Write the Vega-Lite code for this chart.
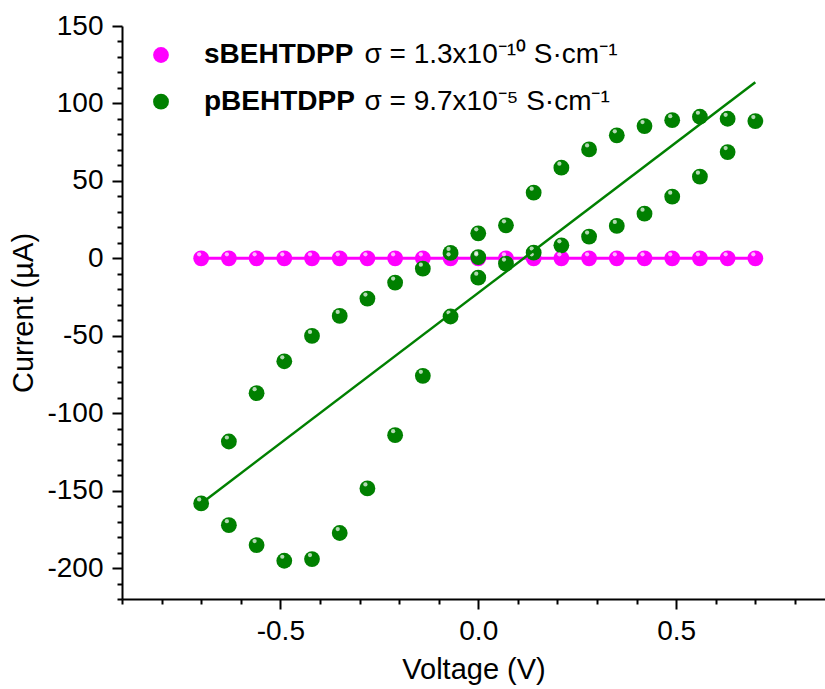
{
  "$schema": "https://vega.github.io/schema/vega-lite/v6.json",
  "autosize": "none",
  "width": 703,
  "height": 573,
  "padding": {"left": 122, "top": 26, "right": 0, "bottom": 90},
  "background": "white",
  "config": {
    "view": {"stroke": null},
    "font": "Liberation Sans",
    "axis": {"grid": false, "domainColor": "black", "domainWidth": 2, "tickColor": "black", "tickWidth": 2, "labelColor": "black", "titleColor": "black", "titleFontWeight": "normal"}
  },
  "datasets": {
    "iv": [
      {"V": -0.70, "I": 0, "series": "sBEHTDPP"},
      {"V": -0.63, "I": 0, "series": "sBEHTDPP"},
      {"V": -0.56, "I": 0, "series": "sBEHTDPP"},
      {"V": -0.49, "I": 0, "series": "sBEHTDPP"},
      {"V": -0.42, "I": 0, "series": "sBEHTDPP"},
      {"V": -0.35, "I": 0, "series": "sBEHTDPP"},
      {"V": -0.28, "I": 0, "series": "sBEHTDPP"},
      {"V": -0.21, "I": 0, "series": "sBEHTDPP"},
      {"V": -0.14, "I": 0, "series": "sBEHTDPP"},
      {"V": -0.07, "I": 0, "series": "sBEHTDPP"},
      {"V": 0.00, "I": 0, "series": "sBEHTDPP"},
      {"V": 0.07, "I": 0, "series": "sBEHTDPP"},
      {"V": 0.14, "I": 0, "series": "sBEHTDPP"},
      {"V": 0.21, "I": 0, "series": "sBEHTDPP"},
      {"V": 0.28, "I": 0, "series": "sBEHTDPP"},
      {"V": 0.35, "I": 0, "series": "sBEHTDPP"},
      {"V": 0.42, "I": 0, "series": "sBEHTDPP"},
      {"V": 0.49, "I": 0, "series": "sBEHTDPP"},
      {"V": 0.56, "I": 0, "series": "sBEHTDPP"},
      {"V": 0.63, "I": 0, "series": "sBEHTDPP"},
      {"V": 0.70, "I": 0, "series": "sBEHTDPP"},
      {"V": -0.70, "I": -158.3, "series": "pBEHTDPP"},
      {"V": -0.63, "I": -118.3, "series": "pBEHTDPP"},
      {"V": -0.63, "I": -172.3, "series": "pBEHTDPP"},
      {"V": -0.56, "I": -87.1, "series": "pBEHTDPP"},
      {"V": -0.56, "I": -185.2, "series": "pBEHTDPP"},
      {"V": -0.49, "I": -66.5, "series": "pBEHTDPP"},
      {"V": -0.49, "I": -195.3, "series": "pBEHTDPP"},
      {"V": -0.42, "I": -50.1, "series": "pBEHTDPP"},
      {"V": -0.42, "I": -194.2, "series": "pBEHTDPP"},
      {"V": -0.35, "I": -37.2, "series": "pBEHTDPP"},
      {"V": -0.35, "I": -177.4, "series": "pBEHTDPP"},
      {"V": -0.28, "I": -26.0, "series": "pBEHTDPP"},
      {"V": -0.28, "I": -148.6, "series": "pBEHTDPP"},
      {"V": -0.21, "I": -15.7, "series": "pBEHTDPP"},
      {"V": -0.21, "I": -114.2, "series": "pBEHTDPP"},
      {"V": -0.14, "I": -6.7, "series": "pBEHTDPP"},
      {"V": -0.14, "I": -75.9, "series": "pBEHTDPP"},
      {"V": -0.07, "I": 3.5, "series": "pBEHTDPP"},
      {"V": -0.07, "I": -37.6, "series": "pBEHTDPP"},
      {"V": 0.00, "I": 16.1, "series": "pBEHTDPP"},
      {"V": 0.00, "I": 0.8, "series": "pBEHTDPP"},
      {"V": 0.00, "I": -12.5, "series": "pBEHTDPP"},
      {"V": 0.07, "I": 21.3, "series": "pBEHTDPP"},
      {"V": 0.07, "I": -3.4, "series": "pBEHTDPP"},
      {"V": 0.14, "I": 42.4, "series": "pBEHTDPP"},
      {"V": 0.14, "I": 3.7, "series": "pBEHTDPP"},
      {"V": 0.21, "I": 58.5, "series": "pBEHTDPP"},
      {"V": 0.21, "I": 8.4, "series": "pBEHTDPP"},
      {"V": 0.28, "I": 70.3, "series": "pBEHTDPP"},
      {"V": 0.28, "I": 14.0, "series": "pBEHTDPP"},
      {"V": 0.35, "I": 79.4, "series": "pBEHTDPP"},
      {"V": 0.35, "I": 20.9, "series": "pBEHTDPP"},
      {"V": 0.42, "I": 85.4, "series": "pBEHTDPP"},
      {"V": 0.42, "I": 28.8, "series": "pBEHTDPP"},
      {"V": 0.49, "I": 89.2, "series": "pBEHTDPP"},
      {"V": 0.49, "I": 39.8, "series": "pBEHTDPP"},
      {"V": 0.56, "I": 91.4, "series": "pBEHTDPP"},
      {"V": 0.56, "I": 52.7, "series": "pBEHTDPP"},
      {"V": 0.63, "I": 90.1, "series": "pBEHTDPP"},
      {"V": 0.63, "I": 68.6, "series": "pBEHTDPP"},
      {"V": 0.70, "I": 88.6, "series": "pBEHTDPP"}
    ],
    "fit": [
      {"V": -0.70, "I": -158.3},
      {"V": 0.70, "I": 113.7}
    ],
    "sigmas": [
      {"series": "sBEHTDPP", "sigma": "σ = 1.3x10⁻¹⁰ S·cm⁻¹"},
      {"series": "pBEHTDPP", "sigma": "σ = 9.7x10⁻⁵ S·cm⁻¹"}
    ]
  },
  "layer": [
    {
      "data": {"name": "iv"},
      "transform": [{"filter": "datum.series == 'sBEHTDPP'"}],
      "mark": {"type": "line", "color": "#ff00ff", "strokeWidth": 3},
      "encoding": {
        "x": {
          "field": "V", "type": "quantitative",
          "scale": {"domain": [-0.9, 0.876], "nice": false, "zero": false},
          "axis": {
            "orient": "bottom",
            "values": [-0.9, -0.8, -0.7, -0.6, -0.5, -0.4, -0.3, -0.2, -0.1, 0, 0.1, 0.2, 0.3, 0.4, 0.5, 0.6, 0.7, 0.8],
            "labelExpr": "datum.value == -0.5 ? '-0.5' : datum.value == 0 ? '0.0' : datum.value == 0.5 ? '0.5' : ''",
            "tickSize": {"condition": {"test": "datum.value == -0.5 || datum.value == 0 || datum.value == 0.5", "value": 10}, "value": 5},
            "labelFontSize": 28, "labelPadding": 8, "labelOverlap": false, "labelFlush": false,
            "title": "Voltage (V)", "titleFontSize": 29, "titlePadding": 10
          }
        },
        "y": {
          "field": "I", "type": "quantitative",
          "scale": {"domain": [-220, 150], "nice": false, "zero": false},
          "axis": {
            "values": [-220, -210, -200, -190, -180, -170, -160, -150, -140, -130, -120, -110, -100, -90, -80, -70, -60, -50, -40, -30, -20, -10, 0, 10, 20, 30, 40, 50, 60, 70, 80, 90, 100, 110, 120, 130, 140, 150],
            "labelExpr": "datum.value % 50 == 0 ? '' + datum.value : ''",
            "tickSize": {"condition": {"test": "datum.value % 50 == 0", "value": 10}, "value": 5},
            "labelFontSize": 28, "labelPadding": 9, "labelOverlap": false, "labelFlush": false,
            "title": "Current (µA)", "titleFontSize": 29, "titlePadding": 8
          }
        }
      }
    },
    {
      "mark": {"type": "rule", "color": "black", "strokeWidth": 2},
      "encoding": {
        "y": {
          "datum": 150, "type": "quantitative",
          "scale": {"domain": [-220, 150], "nice": false, "zero": false},
          "axis": {
            "values": [-220, -210, -200, -190, -180, -170, -160, -150, -140, -130, -120, -110, -100, -90, -80, -70, -60, -50, -40, -30, -20, -10, 0, 10, 20, 30, 40, 50, 60, 70, 80, 90, 100, 110, 120, 130, 140, 150],
            "labelExpr": "datum.value % 50 == 0 ? '' + datum.value : ''",
            "tickSize": {"condition": {"test": "datum.value % 50 == 0", "value": 10}, "value": 5},
            "labelFontSize": 28, "labelPadding": 9, "labelOverlap": false, "labelFlush": false,
            "title": "Current (µA)", "titleFontSize": 29, "titlePadding": 8
          }
        }
      }
    },
    {
      "data": {"name": "iv"},
      "transform": [{"lookup": "series", "from": {"data": {"name": "sigmas"}, "key": "series", "fields": ["sigma"]}}],
      "mark": {"type": "point", "filled": true, "size": 250, "opacity": 1, "strokeWidth": 0},
      "encoding": {
        "x": {
          "field": "V", "type": "quantitative",
          "scale": {"domain": [-0.9, 0.876], "nice": false, "zero": false},
          "axis": {
            "orient": "bottom",
            "values": [-0.9, -0.8, -0.7, -0.6, -0.5, -0.4, -0.3, -0.2, -0.1, 0, 0.1, 0.2, 0.3, 0.4, 0.5, 0.6, 0.7, 0.8],
            "labelExpr": "datum.value == -0.5 ? '-0.5' : datum.value == 0 ? '0.0' : datum.value == 0.5 ? '0.5' : ''",
            "tickSize": {"condition": {"test": "datum.value == -0.5 || datum.value == 0 || datum.value == 0.5", "value": 10}, "value": 5},
            "labelFontSize": 28, "labelPadding": 8, "labelOverlap": false, "labelFlush": false,
            "title": "Voltage (V)", "titleFontSize": 29, "titlePadding": 10
          }
        },
        "y": {
          "field": "I", "type": "quantitative",
          "scale": {"domain": [-220, 150], "nice": false, "zero": false},
          "axis": {
            "values": [-220, -210, -200, -190, -180, -170, -160, -150, -140, -130, -120, -110, -100, -90, -80, -70, -60, -50, -40, -30, -20, -10, 0, 10, 20, 30, 40, 50, 60, 70, 80, 90, 100, 110, 120, 130, 140, 150],
            "labelExpr": "datum.value % 50 == 0 ? '' + datum.value : ''",
            "tickSize": {"condition": {"test": "datum.value % 50 == 0", "value": 10}, "value": 5},
            "labelFontSize": 28, "labelPadding": 9, "labelOverlap": false, "labelFlush": false,
            "title": "Current (µA)", "titleFontSize": 29, "titlePadding": 8
          }
        },
        "color": {
          "field": "series", "type": "nominal",
          "scale": {"domain": ["sBEHTDPP", "pBEHTDPP"], "range": ["#ff00ff", "#008000"]},
          "legend": {"orient": "none", "legendX": 25, "legendY": 15, "title": null, "symbolType": "circle", "symbolSize": 250, "symbolStrokeWidth": 0, "symbolOpacity": 1, "labelFontSize": 28, "labelFontWeight": "bold", "labelColor": "black", "labelOffset": 29, "labelLimit": 0, "rowPadding": 18.7, "padding": 0}
        },
        "shape": {
          "field": "sigma", "type": "nominal",
          "scale": {"domain": ["σ = 1.3x10⁻¹⁰ S·cm⁻¹", "σ = 9.7x10⁻⁵ S·cm⁻¹"], "range": ["circle", "circle"]},
          "legend": {"orient": "none", "legendX": 214.5, "legendY": 15, "title": null, "symbolSize": 0, "symbolOpacity": 0, "labelFontSize": 28, "labelColor": "black", "labelOffset": 0, "labelLimit": 0, "rowPadding": 18.7, "padding": 0}
        }
      }
    },
    {
      "data": {"name": "iv"},
      "mark": {"type": "point", "filled": true, "size": 18, "color": "white", "opacity": 0.7, "xOffset": -2, "yOffset": -4},
      "encoding": {
        "x": {
          "field": "V", "type": "quantitative",
          "scale": {"domain": [-0.9, 0.876], "nice": false, "zero": false},
          "axis": {
            "orient": "bottom",
            "values": [-0.9, -0.8, -0.7, -0.6, -0.5, -0.4, -0.3, -0.2, -0.1, 0, 0.1, 0.2, 0.3, 0.4, 0.5, 0.6, 0.7, 0.8],
            "labelExpr": "datum.value == -0.5 ? '-0.5' : datum.value == 0 ? '0.0' : datum.value == 0.5 ? '0.5' : ''",
            "tickSize": {"condition": {"test": "datum.value == -0.5 || datum.value == 0 || datum.value == 0.5", "value": 10}, "value": 5},
            "labelFontSize": 28, "labelPadding": 8, "labelOverlap": false, "labelFlush": false,
            "title": "Voltage (V)", "titleFontSize": 29, "titlePadding": 10
          }
        },
        "y": {
          "field": "I", "type": "quantitative",
          "scale": {"domain": [-220, 150], "nice": false, "zero": false},
          "axis": {
            "values": [-220, -210, -200, -190, -180, -170, -160, -150, -140, -130, -120, -110, -100, -90, -80, -70, -60, -50, -40, -30, -20, -10, 0, 10, 20, 30, 40, 50, 60, 70, 80, 90, 100, 110, 120, 130, 140, 150],
            "labelExpr": "datum.value % 50 == 0 ? '' + datum.value : ''",
            "tickSize": {"condition": {"test": "datum.value % 50 == 0", "value": 10}, "value": 5},
            "labelFontSize": 28, "labelPadding": 9, "labelOverlap": false, "labelFlush": false,
            "title": "Current (µA)", "titleFontSize": 29, "titlePadding": 8
          }
        }
      }
    },
    {
      "data": {"name": "fit"},
      "mark": {"type": "line", "color": "#008000", "strokeWidth": 2.5},
      "encoding": {
        "x": {
          "field": "V", "type": "quantitative",
          "scale": {"domain": [-0.9, 0.876], "nice": false, "zero": false},
          "axis": {
            "orient": "bottom",
            "values": [-0.9, -0.8, -0.7, -0.6, -0.5, -0.4, -0.3, -0.2, -0.1, 0, 0.1, 0.2, 0.3, 0.4, 0.5, 0.6, 0.7, 0.8],
            "labelExpr": "datum.value == -0.5 ? '-0.5' : datum.value == 0 ? '0.0' : datum.value == 0.5 ? '0.5' : ''",
            "tickSize": {"condition": {"test": "datum.value == -0.5 || datum.value == 0 || datum.value == 0.5", "value": 10}, "value": 5},
            "labelFontSize": 28, "labelPadding": 8, "labelOverlap": false, "labelFlush": false,
            "title": "Voltage (V)", "titleFontSize": 29, "titlePadding": 10
          }
        },
        "y": {
          "field": "I", "type": "quantitative",
          "scale": {"domain": [-220, 150], "nice": false, "zero": false},
          "axis": {
            "values": [-220, -210, -200, -190, -180, -170, -160, -150, -140, -130, -120, -110, -100, -90, -80, -70, -60, -50, -40, -30, -20, -10, 0, 10, 20, 30, 40, 50, 60, 70, 80, 90, 100, 110, 120, 130, 140, 150],
            "labelExpr": "datum.value % 50 == 0 ? '' + datum.value : ''",
            "tickSize": {"condition": {"test": "datum.value % 50 == 0", "value": 10}, "value": 5},
            "labelFontSize": 28, "labelPadding": 9, "labelOverlap": false, "labelFlush": false,
            "title": "Current (µA)", "titleFontSize": 29, "titlePadding": 8
          }
        }
      }
    }
  ]
}
